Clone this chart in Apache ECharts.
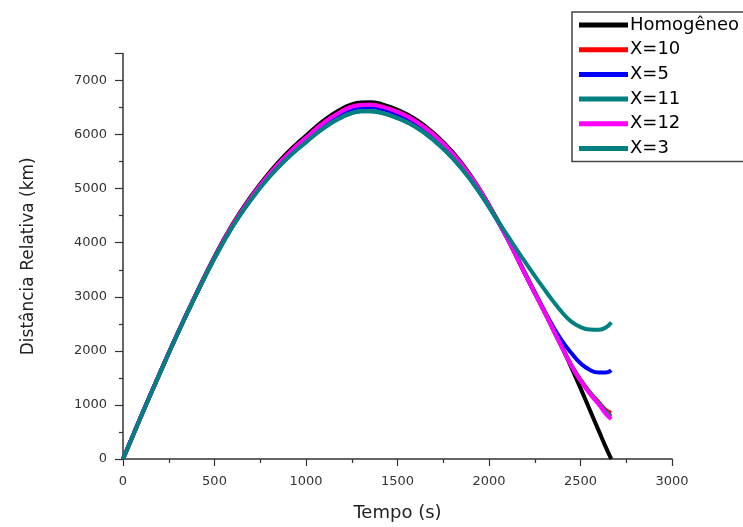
<!DOCTYPE html>
<html><head><meta charset="utf-8">
<script src="https://cdn.jsdelivr.net/npm/echarts@6/dist/echarts.min.js"></script>
<style>html,body{margin:0;padding:0;background:#fff}#c{width:743px;height:527px}</style>
</head><body><div id="c"></div>
<script>
const tempo = [0,100,200,300,400,500,600,700,800,900,1000,1100,1200,1250,1300,1350,1400,1500,1600,1700,1800,1900,2000,2100,2200,2300,2350,2400,2450,2500,2550,2600,2640,2668];
const homogeneo = [0,800,1580,2340,3060,3740,4350,4860,5300,5670,5980,6270,6485,6560,6594,6598,6575,6460,6280,6020,5680,5240,4700,4080,3400,2740,2400,2060,1690,1310,915,520,205,0];
const x10 = [0,800,1580,2335,3050,3725,4330,4835,5270,5635,5940,6225,6440,6515,6549,6553,6530,6420,6245,5990,5655,5225,4690,4080,3400,2740,2400,2060,1740,1470,1240,1050,900,850];
const x5 = [0,800,1578,2333,3045,3720,4320,4820,5245,5605,5905,6190,6400,6473,6507,6511,6488,6380,6210,5960,5630,5210,4680,4085,3420,2760,2450,2180,1960,1770,1650,1600,1600,1640];
const x11 = [0,800,1575,2330,3040,3710,4305,4800,5220,5570,5860,6130,6330,6398,6430,6434,6413,6305,6140,5890,5570,5160,4660,4080,3400,2740,2400,2060,1730,1460,1225,1030,870,790];
const x12 = [0,800,1580,2335,3050,3725,4330,4835,5270,5635,5940,6225,6440,6515,6549,6553,6530,6420,6245,5990,5655,5225,4690,4080,3400,2740,2400,2060,1725,1450,1210,1010,830,740];
const x3 = [0,800,1575,2330,3040,3710,4305,4800,5220,5570,5860,6130,6330,6398,6430,6434,6413,6305,6140,5890,5570,5160,4660,4140,3630,3150,2920,2710,2540,2440,2395,2390,2435,2525];
const names = ['Homogêneo','X=10','X=5','X=11','X=12','X=3'];
const colors = ['#000000','#ff0000','#0000ff','#008080','#ff00ff','#008080'];
const values = [homogeneo,x10,x5,x11,x12,x3];
const xTicks = [0,500,1000,1500,2000,2500,3000];
const yTicks = [0,1000,2000,3000,4000,5000,6000,7000];

const chart = echarts.init(document.getElementById('c'), null, {renderer:'canvas'});
const font = '"DejaVu Sans", sans-serif';
chart.setOption({
  animation:false,
  backgroundColor:'#fff',
  color: colors,
  grid:{left:123,right:71,top:53.5,bottom:66.3,containLabel:false},
  legend:{
    data:names, orient:'vertical', left:572, top:12,
    icon:'rect', itemWidth:49, itemHeight:5, itemGap:4.7,
    padding:[3,10,3,7],
    borderColor:'#444', borderWidth:1.5,
    textStyle:{fontFamily:font,fontSize:18,color:'#000',lineHeight:20,padding:[0,0,0,-3]}
  },
  xAxis:{
    type:'value', min:0, max:3000, interval:500,
    name:'Tempo (s)', nameLocation:'middle', nameGap:45,
    nameTextStyle:{fontFamily:font,fontSize:18,color:'#222'},
    axisLine:{lineStyle:{color:'#333',width:1.5}},
    axisTick:{show:true,length:7,inside:false,lineStyle:{color:'#333',width:1.2}},
    minorTick:{show:true,splitNumber:2,length:4,lineStyle:{color:'#333',width:1.2}},
    splitLine:{show:false},
    axisLabel:{fontFamily:font,fontSize:13,color:'#333',margin:16,
      formatter:function(v){return xTicks.indexOf(v)>=0 ? String(v) : '';}}
  },
  yAxis:{
    type:'value', min:0, max:7500, interval:1000,
    name:'Distância Relativa (km)', nameLocation:'middle', nameGap:86,
    nameTextStyle:{fontFamily:font,fontSize:17,color:'#222'},
    axisLine:{show:true,lineStyle:{color:'#333',width:1.5}},
    axisTick:{show:true,length:8,inside:false,lineStyle:{color:'#333',width:1.2}},
    minorTick:{show:true,splitNumber:2,length:4,lineStyle:{color:'#333',width:1.2}},
    splitLine:{show:false},
    axisLabel:{fontFamily:font,fontSize:13,color:'#333',margin:16,
      formatter:function(v){return yTicks.indexOf(v)>=0 ? String(v) : '';}}
  },
  series: names.map((n,i)=>({
    name:n, type:'line', smooth:0.5, showSymbol:false, symbol:'none',
    lineStyle:{width:4,color:colors[i]}, itemStyle:{color:colors[i]},
    data: tempo.map((t,j)=>[t, values[i][j]])
  }))
});
</script></body></html>
